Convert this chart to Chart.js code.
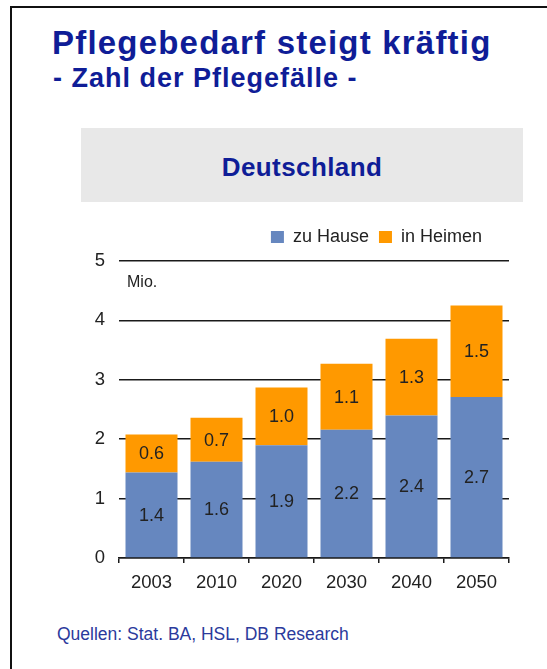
<!DOCTYPE html>
<html>
<head>
<meta charset="utf-8">
<script src="https://cdn.jsdelivr.net/npm/chart.js@4.4.1/dist/chart.umd.min.js"></script>
<style>
  body { margin: 0; background: #fff; font-family: "Liberation Sans", Arial, sans-serif; }
  #page { position: relative; width: 547px; height: 669px; overflow: hidden; }
  #frame { position: absolute; left: 10px; top: 6px; width: 600px; height: 700px;
           border-left: 2px solid #111; border-top: 2px solid #111; }
  .t { position: absolute; white-space: nowrap; }
  #title { left: 52px; top: 26px; font-size: 33px; line-height: 33px; font-weight: bold;
           color: #0f1d97; letter-spacing: 1.2px; }
  #sub { left: 53px; top: 65px; font-size: 27px; line-height: 27px; font-weight: bold;
         color: #0f1d97; letter-spacing: 1px; }
  #box { position: absolute; left: 81px; top: 128px; width: 442px; height: 74px; background: #e8e8e8; }
  #land { left: 81px; width: 442px; text-align: center; top: 154px; font-size: 26px; line-height: 26px;
          font-weight: bold; color: #0f1d97; letter-spacing: 0.4px; }
  #unit { left: 127px; top: 274px; font-size: 16px; line-height: 16px; color: #222; }
  #src { left: 57px; top: 625px; font-size: 17.5px; line-height: 18px; color: #2b3a9c; }
  #wrap { position: absolute; left: 40px; top: 205px; width: 507px; height: 395px; }
</style>
</head>
<body>
<div id="page">
  <div id="frame"></div>
  <div class="t" id="title">Pflegebedarf steigt kräftig</div>
  <div class="t" id="sub">- Zahl der Pflegefälle -</div>
  <div id="box"></div>
  <div class="t" id="land">Deutschland</div>
  <div id="wrap"><canvas id="myChart"></canvas></div>
  <div class="t" id="unit">Mio.</div>
  <div class="t" id="src">Quellen: Stat. BA, HSL, DB Research</div>
</div>
<script>
  var years = ["2003", "2010", "2020", "2030", "2040", "2050"];
  var zuHause = [1.44, 1.62, 1.90, 2.16, 2.40, 2.71];
  var inHeimen = [0.64, 0.74, 0.97, 1.11, 1.29, 1.54];
  var seriesNames = ["zu Hause", "in Heimen"];
  var barColors = ["#6687bf", "#ff9900"];

  // values written into the middle of each bar segment
  var barLabels = {
    id: "barLabels",
    afterDatasetsDraw: function(chart) {
      var ctx = chart.ctx;
      ctx.save();
      ctx.font = "18px 'Liberation Sans', Arial, sans-serif";
      ctx.fillStyle = "#222";
      ctx.textAlign = "center";
      ctx.textBaseline = "middle";
      chart.data.datasets.forEach(function(ds, i) {
        chart.getDatasetMeta(i).data.forEach(function(bar, j) {
          ctx.fillText(ds.data[j].toFixed(1), bar.x, (bar.y + bar.base) / 2 + 1);
        });
      });
      ctx.restore();
    }
  };

  // legend sits a bit left of the plot's right edge and a bit higher
  var legendPlace = {
    id: "legendPlace",
    afterLayout: function(chart) {
      var lg = chart.legend;
      lg.right = chart.chartArea.right - 17;
      lg.top -= 5;
      lg.bottom -= 5;
    }
  };

  var chart = new Chart(document.getElementById("myChart"), {
    type: "bar",
    data: {
      labels: years,
      datasets: [
        { label: seriesNames[0], data: zuHause, backgroundColor: barColors[0] },
        { label: seriesNames[1], data: inHeimen, backgroundColor: barColors[1] }
      ]
    },
    options: {
      responsive: true,
      maintainAspectRatio: false,
      animation: false,
      layout: { padding: { top: 18, right: 38, bottom: 0, left: 0 } },
      datasets: { bar: { barPercentage: 0.8, categoryPercentage: 1 } },
      plugins: {
        legend: {
          align: "end",
          labels: {
            boxWidth: 13, boxHeight: 12, padding: 10, color: "#222",
            font: { size: 18, family: "'Liberation Sans', Arial, sans-serif" }
          }
        },
        tooltip: { enabled: false }
      },
      scales: {
        x: {
          stacked: true,
          grid: { drawOnChartArea: false, color: "#1a1a1a", lineWidth: 1.5, tickLength: 5 },
          border: { color: "#1a1a1a", width: 1.5 },
          ticks: { color: "#222", padding: 9, font: { size: 18.5, family: "'Liberation Sans', Arial, sans-serif" } },
          afterFit: function(s) { s.height = 42; }
        },
        y: {
          stacked: true,
          min: 0, max: 5,
          grid: { color: "#1a1a1a", lineWidth: 1.5, drawTicks: false },
          border: { display: false },
          ticks: { stepSize: 1, color: "#222", padding: 14, font: { size: 18.5, family: "'Liberation Sans', Arial, sans-serif" } },
          afterFit: function(s) { s.width = 79; }
        }
      }
    },
    plugins: [barLabels, legendPlace]
  });
</script>
</body>
</html>
